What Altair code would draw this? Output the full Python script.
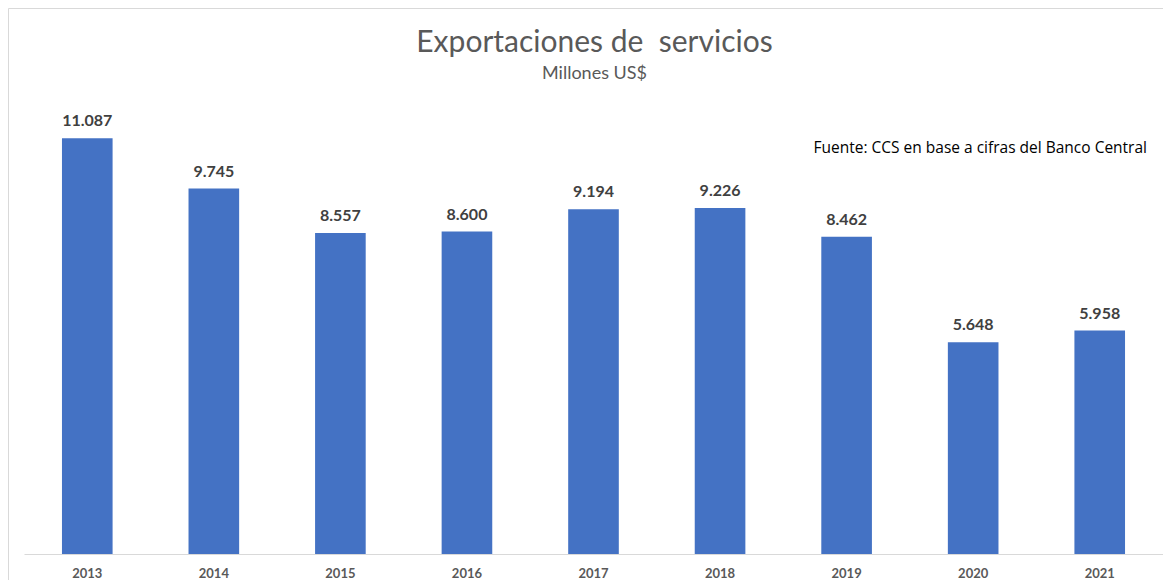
import altair as alt
import pandas as pd

years = ["2013", "2014", "2015", "2016", "2017", "2018", "2019", "2020", "2021"]
values = [11087, 9745, 8557, 8600, 9194, 9226, 8462, 5648, 5958]

title_text = "Exportaciones de \u00a0servicios"
subtitle_text = "Millones US$"
source_text = "Fuente: CCS en base a cifras del Banco Central"

df = pd.DataFrame({
    "year": years,
    "value": values,
    "label": [f"{v:,}".replace(",", ".") for v in values],
})

W, H = 1139, 450
FONT = "Lato"

base = alt.Chart(df).encode(
    x=alt.X("year:N", sort=years, title=None,
            scale=alt.Scale(paddingInner=0.6, paddingOuter=0.3),
            axis=alt.Axis(labelAngle=0, ticks=False, domainColor="#d9d9d9",
                          labelFont=FONT, labelFontWeight="bold", labelFontSize=13,
                          labelColor="#595959", labelPadding=13, grid=False)),
    y=alt.Y("value:Q", title=None, scale=alt.Scale(domain=[0, 12000]), axis=None),
)

bars = base.mark_bar(color="#4472C4")
labels = base.mark_text(baseline="alphabetic", dy=-12, font=FONT, fontSize=16,
                        fontWeight="bold", color="#404040").encode(text="label:N")

def text_layer(txt, x, y, size, color, align, font):
    return alt.Chart(pd.DataFrame({"t": [txt]})).mark_text(
        align=align, baseline="alphabetic", font=font, fontSize=size, color=color
    ).encode(x=alt.value(x), y=alt.value(y), text="t:N")

title = text_layer(title_text, W / 2 + 1, -52, 30, "#595959", "center", FONT)
subtitle = text_layer(subtitle_text, W / 2 + 1, -25, 18, "#595959", "center", FONT)
source = text_layer(source_text, 1123, 49, 15.5, "#000000", "right", "Open Sans")

frame = alt.Chart(pd.DataFrame({"a": [0]})).mark_rect(
    fill=None, stroke="#d9d9d9", strokeWidth=1
).encode(x=alt.value(-15.5), x2=alt.value(W + 40), y=alt.value(-95.5), y2=alt.value(H + 60))

chart = alt.layer(frame, bars, labels, title, subtitle, source).properties(
    width=W, height=H,
    autosize=alt.AutoSizeParams(type="none"),
    padding={"left": 16, "top": 96, "right": 0, "bottom": 26},
).configure_view(stroke=None)

chart.save("out.html", embed_options={"renderer": "svg", "actions": False})
